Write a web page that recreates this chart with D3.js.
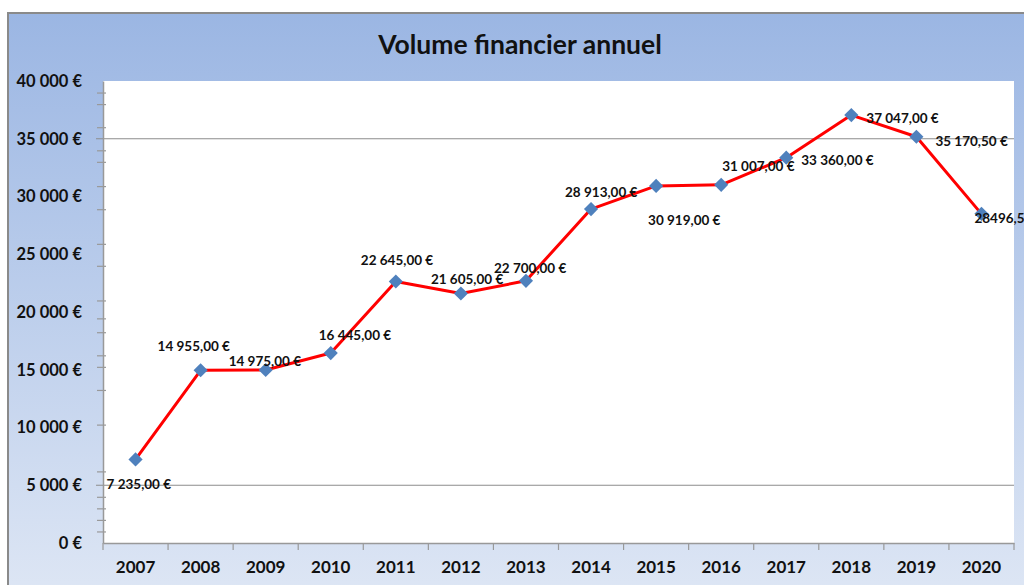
<!DOCTYPE html>
<html>
<head>
<meta charset="utf-8">
<script src="https://cdn.jsdelivr.net/npm/d3@7"></script>
<style>
  body { margin: 0; background: #fff; }
  svg text { font-family: Lato, "Open Sans", sans-serif; font-weight: bold; fill: #111; }
</style>
</head>
<body>
<div id="chart"></div>
<script>
// data
var years = ['2007', '2008', '2009', '2010', '2011', '2012', '2013',
  '2014', '2015', '2016', '2017', '2018', '2019', '2020'];
var volumes = [7235, 14955, 14975, 16445, 22645, 21605, 22700,
  28913, 30919, 31007, 33360, 37047, 35170.5, 28496.5];
var yTicks = [0, 5000, 10000, 15000, 20000, 25000, 30000, 35000, 40000];
var yMinorTicks = [1000, 2000, 3000, 4000, 6200, 10250, 13250, 15250, 16250,
  18250, 19450, 21000, 24000, 25900, 28900, 30900, 33000, 34000, 36000, 38000, 39000];
var yGridTicks = [5000, 35000];

var width = 1024, height = 585;
var margin = {top: 81, right: 10, bottom: 42, left: 103};

var svg = d3.select('#chart').append('svg')
  .attr('width', width)
  .attr('height', height);

// french number format
var fr = d3.formatLocale({decimal: ',', thousands: '\u00a0', grouping: [3], currency: ['', '\u00a0€']});
var fmtAxis = fr.format('$,.0f');
var fmtLabel = fr.format('$,.2f');
// the last value was typed raw in the sheet, no grouping, no currency
var fmtRaw = fr.format('.1f');

// background gradient of the chart frame
var defs = svg.append('defs');
var grad = defs.append('linearGradient')
  .attr('id', 'bg')
  .attr('x1', 0).attr('y1', 0).attr('x2', 0).attr('y2', 1);
grad.append('stop').attr('offset', '0%').attr('stop-color', '#9bb6e3');
grad.append('stop').attr('offset', '100%').attr('stop-color', '#e0e8f5');

svg.append('rect')
  .attr('x', 8).attr('y', 13)
  .attr('width', width + 20).attr('height', height + 20)
  .attr('fill', 'url(#bg)')
  .attr('stroke', '#8a8a8a')
  .attr('stroke-width', 2);

// plot area
svg.append('rect')
  .attr('x', margin.left).attr('y', margin.top)
  .attr('width', width - margin.right - margin.left)
  .attr('height', height - margin.bottom - margin.top)
  .attr('fill', '#fff');

// title
svg.append('text')
  .attr('x', 520).attr('y', 54)
  .attr('text-anchor', 'middle')
  .style('font-size', '26.5px')
  .text('Volume financier annuel');

var x = d3.scaleBand().domain(years)
  .range([margin.left, width - margin.right]).padding(0);
var y = d3.scaleLinear().domain([0, 40000])
  .range([height - margin.bottom, margin.top]);

// grid lines (only two in the original)
svg.append('g').selectAll('line')
  .data(yGridTicks).enter().append('line')
  .attr('x1', margin.left - 7).attr('x2', width - margin.right)
  .attr('y1', function (d) { return y(d); })
  .attr('y2', function (d) { return y(d); })
  .attr('stroke', '#8c8c8c').attr('stroke-width', 1.2);

// y axis labels
var yAxis = svg.append('g')
  .attr('transform', 'translate(' + margin.left + ',0)')
  .call(d3.axisLeft(y).tickValues(yTicks).tickSize(0).tickPadding(21).tickFormat(fmtAxis));
yAxis.select('.domain').attr('stroke', '#999').attr('stroke-width', 1.5);
yAxis.selectAll('text').style('font-size', '16.5px').attr('fill', '#111');

// minor ticks crossing the y axis
var yMinor = svg.append('g')
  .attr('transform', 'translate(' + margin.left + ',0)')
  .call(d3.axisLeft(y).tickValues(yMinorTicks).tickSize(6).tickFormat(''));
yMinor.select('.domain').remove();
yMinor.selectAll('line').attr('x1', 3).attr('stroke', '#999').attr('stroke-width', 1.2);

// x axis
var xAxis = svg.append('g')
  .attr('transform', 'translate(0,' + (height - margin.bottom) + ')')
  .call(d3.axisBottom(x).tickSize(0).tickPadding(18));
xAxis.select('.domain').attr('stroke', '#999').attr('stroke-width', 1.5);
xAxis.selectAll('text').style('font-size', '17px').attr('fill', '#111');

// ticks between the categories
var bounds = years.map(function (d) { return x(d); }).concat([x.range()[1]]);
xAxis.append('g').selectAll('line')
  .data(bounds).enter().append('line')
  .attr('x1', function (d) { return d; })
  .attr('x2', function (d) { return d; })
  .attr('y1', 0).attr('y2', 7)
  .attr('stroke', '#999').attr('stroke-width', 1.2);

// line
var pts = years.map(function (d, i) {
  return {year: d, value: volumes[i]};
});
var line = d3.line()
  .x(function (d) { return x(d.year) + x.bandwidth() / 2; })
  .y(function (d) { return y(d.value); });

svg.append('path')
  .datum(pts)
  .attr('d', line)
  .attr('fill', 'none')
  .attr('stroke', '#ff0000')
  .attr('stroke-width', 3)
  .attr('stroke-linejoin', 'round');

// diamond markers
svg.append('g').selectAll('path')
  .data(pts).enter().append('path')
  .attr('d', d3.symbol(d3.symbolSquare, 100))
  .attr('transform', function (d) {
    return 'translate(' + (x(d.year) + x.bandwidth() / 2) + ',' + y(d.value) + ') rotate(45)';
  })
  .attr('fill', '#4f81bd');

// data labels, each one placed like in the original
var labelOffsets = [[-29, 25], [-43, -24], [-37, -9], [-12, -18], [-35, -21], [-30, -14], [-32, -13],
  [-26, -17], [-8, 34], [1, -19], [15, 3], [15, 3], [19, 4], [-7, 4]];

svg.append('g').selectAll('text')
  .data(pts).enter().append('text')
  .attr('x', function (d, i) { return x(d.year) + x.bandwidth() / 2 + labelOffsets[i][0]; })
  .attr('y', function (d, i) { return y(d.value) + labelOffsets[i][1]; })
  .attr('dy', '0.35em')
  .style('font-size', '13.5px')
  .text(function (d, i) {
    if (i === pts.length - 1) return fmtRaw(d.value);
    return fmtLabel(d.value);
  });
</script>
</body>
</html>
